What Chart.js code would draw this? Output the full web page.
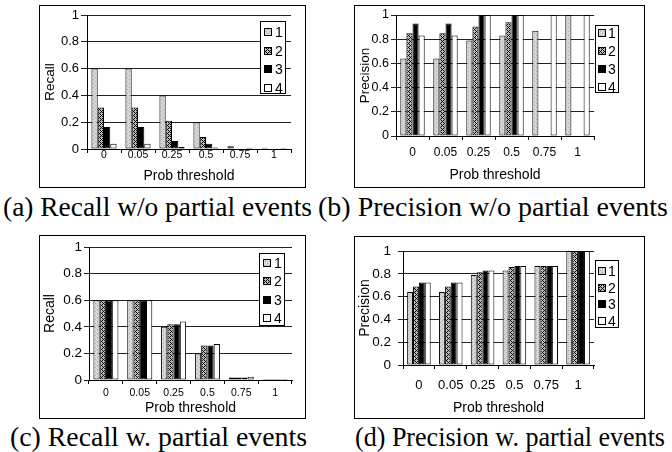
<!DOCTYPE html>
<html>
<head>
<meta charset="utf-8">
<script src="https://cdn.jsdelivr.net/npm/chart.js@4.4.0/dist/chart.umd.min.js"></script>
<style>
  body { margin: 0; background: #fff; width: 672px; height: 452px; position: relative; overflow: hidden; }
  .frame { position: absolute; border: 1px solid #000; box-sizing: border-box; }
  canvas { position: absolute; }
  .caption { position: absolute; font-family: 'Liberation Serif', 'Times New Roman', serif; font-size: 27px; line-height: 1; white-space: nowrap; color: #000; transform-origin: 0 0; }
</style>
</head>
<body>
<script>
// =================== DATA =================== //
const thresholds = ['0', '0.05', '0.25', '0.5', '0.75', '1'];
const seriesNames = ['1', '2', '3', '4'];
const yTickValues = [0, 0.2, 0.4, 0.6, 0.8, 1];

// (a) recall w/o partial events
const recallWo1 = [0.6, 0.6, 0.4, 0.2, 0.02, 0.01];
const recallWo2 = [0.31, 0.31, 0.21, 0.09, 0, 0];
const recallWo3 = [0.165, 0.165, 0.06, 0.04, 0, 0];
const recallWo4 = [0.04, 0.04, 0.015, 0.012, 0.01, 0.008];

// (b) precision w/o partial events
const precWo1 = [0.64, 0.64, 0.79, 0.83, 0.87, 1];
const precWo2 = [0.85, 0.85, 0.905, 0.94, 0, 0];
const precWo3 = [0.93, 0.93, 1, 1, 0, 0];
const precWo4 = [0.83, 0.83, 1, 1, 1, 1];

// (c) recall w. partial events
const recallW1 = [0.6, 0.6, 0.4, 0.2, 0.018, 0.008];
const recallW2 = [0.6, 0.6, 0.42, 0.26, 0.018, 0.008];
const recallW3 = [0.6, 0.6, 0.42, 0.26, 0.018, 0.008];
const recallW4 = [0.6, 0.6, 0.44, 0.27, 0.025, 0.008];

// (d) precision w. partial events
const precW1 = [0.64, 0.64, 0.79, 0.83, 0.87, 1];
const precW2 = [0.69, 0.69, 0.815, 0.86, 0.87, 1];
const precW3 = [0.725, 0.725, 0.83, 0.87, 0.87, 1];
const precW4 = [0.725, 0.725, 0.83, 0.87, 0.87, 1];

const captions = [
    '(a) Recall w/o partial events',
    '(b) Precision w/o partial events',
    '(c) Recall w. partial events',
    '(d) Precision w. partial events'
];

// =================== LAYOUT (page pixels) =================== //
const panels = [
    { series: [recallWo1, recallWo2, recallWo3, recallWo4], yTitle: 'Recall',
      box: { x: 39, y: 5, w: 267, h: 183 }, plot: { l: 87, t: 15, r: 291, b: 149 },
      xTick: 10.5, xTickY: 155, yTick: 13, yTickLen: 6, yTickPad: 2,
      titleSize: 13.5, yTitleX: 50, xTitleY: 176,
      legend: { x: 260, y: 21, w: 26, h: 73, first: 11, step: 18.5, swX: 4, textX: 15 },
      caption: { x: 3, y: 194, right: 312 } },
    { series: [precWo1, precWo2, precWo3, precWo4], yTitle: 'Precision',
      box: { x: 354, y: 5, w: 291, h: 183 }, plot: { l: 396, t: 15, r: 594, b: 136 },
      xTick: 12, xTickY: 153, yTick: 12.5, yTickLen: 5, yTickPad: 2,
      titleSize: 13.5, yTitleX: 365, xTitleY: 175,
      legend: { x: 595, y: 25, w: 24, h: 68, first: 8, step: 18, swX: 3, textX: 13 },
      caption: { x: 318, y: 194, right: 668 } },
    { series: [recallW1, recallW2, recallW3, recallW4], yTitle: 'Recall',
      box: { x: 39, y: 235, w: 267, h: 184 }, plot: { l: 89, t: 247, r: 292, b: 380 },
      xTick: 10.5, xTickY: 393, yTick: 13.5, yTickLen: 5, yTickPad: 2,
      titleSize: 14, yTitleX: 50, xTitleY: 408,
      legend: { x: 259, y: 253, w: 26, h: 73, first: 10, step: 18.3, swX: 4, textX: 15 },
      caption: { x: 10, y: 424, right: 307 } },
    { series: [precW1, precW2, precW3, precW4], yTitle: 'Precision',
      box: { x: 354, y: 236, w: 291, h: 183 }, plot: { l: 403, t: 247, r: 594, b: 365 },
      xTick: 13, xTickY: 385, yTick: 13.5, yTickLen: 5, yTickPad: 7,
      titleSize: 14, yTitleX: 365, xTitleY: 408,
      legend: { x: 595, y: 260, w: 24, h: 68, first: 11, step: 16.5, swX: 3, textX: 13 },
      caption: { x: 355, y: 424, right: 665 } }
];

const SANS = "'Liberation Sans', Arial, sans-serif";

// =================== FILL PATTERNS =================== //
function makePattern(ctx, base, ink, isInk) {
    let tile = document.createElement('canvas');
    tile.width = 4;
    tile.height = 4;
    let g = tile.getContext('2d');
    g.fillStyle = base;
    g.fillRect(0, 0, 4, 4);
    g.fillStyle = ink;
    for (let y = 0; y < 4; y++) {
        for (let x = 0; x < 4; x++) {
            if (isInk(x, y)) g.fillRect(x, y, 1, 1);
        }
    }
    return ctx.createPattern(tile, 'repeat');
}

function seriesFills(ctx) {
    return [
        makePattern(ctx, '#d6d6d6', '#ababab', (x, y) => (x + y) % 4 === 0 && y % 2 === 0),
        makePattern(ctx, '#bdbdbd', '#000000', (x, y) => (x + y) % 4 === 0 || (x - y + 8) % 4 === 0),
        '#000000',
        '#ffffff'
    ];
}

// =================== LEGEND BOX PLUGIN =================== //
const boxLegend = {
    id: 'boxLegend',
    afterDraw(chart, args, opts) {
        let g = chart.ctx;
        let L = opts.box;
        g.save();
        g.fillStyle = '#fff';
        g.fillRect(L.x, L.y, L.w, L.h);
        g.strokeStyle = '#000';
        g.lineWidth = 1;
        g.strokeRect(L.x + 0.5, L.y + 0.5, L.w - 1, L.h - 1);
        g.font = '14px ' + SANS;
        g.textBaseline = 'middle';
        g.textAlign = 'left';
        chart.data.datasets.forEach((ds, i) => {
            let cy = Math.round(L.y + L.first + i * L.step);
            g.fillStyle = ds.backgroundColor;
            g.fillRect(L.x + L.swX, cy - 4, 8, 8);
            g.strokeRect(L.x + L.swX + 0.5, cy - 3.5, 7, 7);
            g.fillStyle = '#000';
            g.fillText(ds.label, L.x + L.textX, cy + 1);
        });
        g.restore();
    }
};

// =================== BUILD PANELS =================== //
panels.forEach((p, idx) => {
    let frame = document.createElement('div');
    frame.className = 'frame';
    frame.style.left = p.box.x + 'px';
    frame.style.top = p.box.y + 'px';
    frame.style.width = p.box.w + 'px';
    frame.style.height = p.box.h + 'px';
    document.body.appendChild(frame);

    let canvas = document.createElement('canvas');
    canvas.width = p.box.w;
    canvas.height = p.box.h;
    canvas.style.left = p.box.x + 'px';
    canvas.style.top = p.box.y + 'px';
    canvas.style.width = p.box.w + 'px';
    canvas.style.height = p.box.h + 'px';
    document.body.appendChild(canvas);

    // caption, stretched to the width it has in the figure
    let cap = document.createElement('div');
    cap.className = 'caption';
    cap.textContent = captions[idx];
    cap.style.left = p.caption.x + 'px';
    cap.style.top = p.caption.y + 'px';
    document.body.appendChild(cap);
    let natural = cap.getBoundingClientRect().width;
    cap.style.transform = 'scaleX(' + ((p.caption.right - p.caption.x) / natural) + ')';

    let ctx = canvas.getContext('2d');
    let fills = seriesFills(ctx);

    let xAxisH = p.box.y + p.box.h - p.plot.b;
    let xTickLen = 4;
    let xTickPad = (p.xTickY - p.plot.b) - xTickLen - p.xTick * 0.6;
    let legendBox = Object.assign({}, p.legend, { x: p.legend.x - p.box.x, y: p.legend.y - p.box.y });

    new Chart(ctx, {
        type: 'bar',
        data: {
            labels: thresholds,
            datasets: p.series.map((values, i) => ({
                label: seriesNames[i],
                data: values,
                backgroundColor: fills[i],
                borderColor: '#000',
                borderWidth: c => (c.raw ? 1 : 0),
                borderSkipped: false,
                categoryPercentage: 0.74,
                barPercentage: 1.0
            }))
        },
        options: {
            responsive: false,
            animation: false,
            events: [],
            layout: {
                padding: { top: p.plot.t - p.box.y, right: p.box.x + p.box.w - p.plot.r, left: 0, bottom: 0 }
            },
            plugins: {
                legend: { display: false },
                tooltip: { enabled: false },
                boxLegend: { box: legendBox }
            },
            scales: {
                x: {
                    afterFit: s => { s.height = xAxisH; },
                    grid: { display: true, drawOnChartArea: false, drawTicks: true, tickLength: xTickLen, color: '#000', offset: true },
                    border: { display: true, color: '#000', width: 1 },
                    ticks: { color: '#000', font: { family: SANS, size: p.xTick, lineHeight: 1.2 }, padding: xTickPad, maxRotation: 0, autoSkip: false },
                    title: {
                        display: true, text: 'Prob threshold', color: '#000',
                        font: { family: SANS, size: 14, lineHeight: 1 },
                        padding: { top: 0, bottom: (p.box.y + p.box.h - p.xTitleY) - 7 }
                    }
                },
                y: {
                    min: 0,
                    max: 1,
                    afterFit: s => { s.width = p.plot.l - p.box.x; },
                    afterBuildTicks: s => { s.ticks = yTickValues.map(v => ({ value: v })); },
                    grid: { color: '#222', lineWidth: 1, drawTicks: true, tickLength: p.yTickLen },
                    border: { display: true, color: '#000', width: 1 },
                    ticks: { color: '#000', font: { family: SANS, size: p.yTick }, padding: p.yTickPad, callback: v => String(v) },
                    title: {
                        display: true, text: p.yTitle, color: '#000',
                        font: { family: SANS, size: p.titleSize, lineHeight: 1 },
                        padding: { top: (p.yTitleX - p.box.x) - p.titleSize / 2, bottom: 0 }
                    }
                }
            }
        },
        plugins: [boxLegend]
    });
});
</script>
</body>
</html>
